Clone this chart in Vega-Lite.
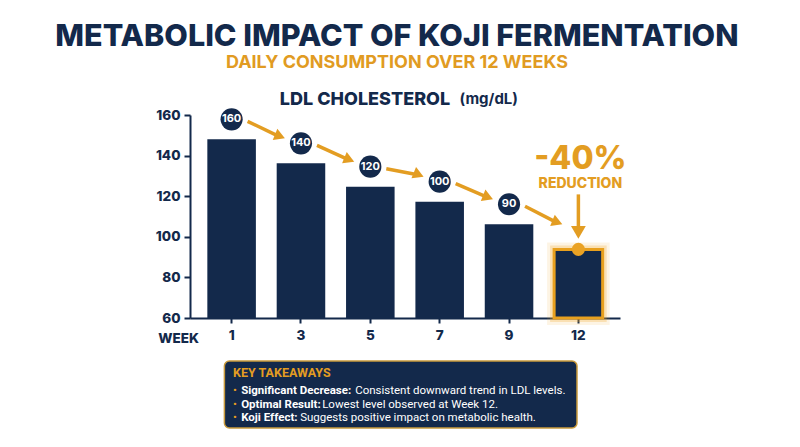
{
  "$schema": "https://vega.github.io/schema/vega-lite/v6.json",
  "background": "white",
  "padding": {"left": 55, "top": 21, "right": 10, "bottom": 10},
  "title": {
    "text": "METABOLIC IMPACT OF KOJI FERMENTATION",
    "subtitle": "DAILY CONSUMPTION OVER 12 WEEKS",
    "anchor": "middle",
    "dx": 6,
    "font": "Inter",
    "fontSize": 30.5,
    "fontWeight": 800,
    "color": "#13294b",
    "subtitleFont": "Inter",
    "subtitleFontSize": 18,
    "subtitleFontWeight": 700,
    "subtitleColor": "#e19b22",
    "subtitlePadding": 2,
    "offset": 19
  },
  "spacing": 15,
  "vconcat": [
    {
      "width": 430,
      "height": 203,
      "title": {
        "text": "LDL CHOLESTEROL",
        "anchor": "middle",
        "dx": -40,
        "baseline": "alphabetic",
        "font": "Inter",
        "fontSize": 18,
        "fontWeight": 800,
        "color": "#13294b",
        "offset": -32
      },
      "data": {
        "values": [
          {"week": "1", "ldl": 148, "badge": "160"},
          {"week": "3", "ldl": 136.2, "badge": "140"},
          {"week": "5", "ldl": 124.7, "badge": "120"},
          {"week": "7", "ldl": 117.3, "badge": "100"},
          {"week": "9", "ldl": 106.2, "badge": "90"},
          {"week": "12", "ldl": 93.8, "badge": null}
        ]
      },
      "encoding": {
        "x": {
          "field": "week",
          "type": "ordinal",
          "sort": null,
          "scale": {"paddingInner": 0.3, "paddingOuter": 0.25},
          "axis": {
            "title": "WEEK",
            "titleX": -12,
            "titleY": 20,
            "titleAlign": "center",
            "titleBaseline": "middle",
            "titleFont": "Inter",
            "titleFontSize": 13.5,
            "titleFontWeight": 800,
            "titleColor": "#13294b",
            "labelAngle": 0,
            "labelFont": "Inter",
            "labelFontSize": 13.5,
            "labelFontWeight": 800,
            "labelColor": "#13294b",
            "labelPadding": 5,
            "domainColor": "#13294b",
            "domainWidth": 2,
            "tickColor": "#13294b",
            "tickWidth": 2,
            "tickSize": 5
          }
        },
        "y": {
          "field": "ldl",
          "type": "quantitative",
          "scale": {"domain": [60, 160], "zero": false, "nice": false},
          "axis": {
            "values": [60, 80, 100, 120, 140, 160],
            "grid": false,
            "title": "(mg/dL)",
            "titleAngle": 0,
            "titleX": 269,
            "titleY": -12,
            "titleAlign": "left",
            "titleBaseline": "alphabetic",
            "titleFont": "Inter",
            "titleFontSize": 15,
            "titleFontWeight": 700,
            "titleColor": "#13294b",
            "labelFont": "Inter",
            "labelFontSize": 13.5,
            "labelFontWeight": 800,
            "labelColor": "#13294b",
            "labelPadding": 4,
            "domainColor": "#13294b",
            "domainWidth": 2,
            "tickColor": "#13294b",
            "tickWidth": 2,
            "tickSize": 6
          }
        }
      },
      "layer": [
        {"mark": {"type": "bar", "color": "#13294b"}, "encoding": {"y2": {"datum": 60}}},
        {
          "transform": [{"filter": "datum.week == '12'"}],
          "mark": {"type": "bar", "fillOpacity": 0, "stroke": "#f2a51f", "strokeWidth": 14, "strokeOpacity": 0.12},
          "encoding": {"y2": {"datum": 60}}
        },
        {
          "transform": [{"filter": "datum.week == '12'"}],
          "mark": {"type": "bar", "fillOpacity": 0, "stroke": "#f2a51f", "strokeWidth": 8, "strokeOpacity": 0.25},
          "encoding": {"y2": {"datum": 60}}
        },
        {
          "transform": [{"filter": "datum.week == '12'"}],
          "mark": {"type": "bar", "fill": "#13294b", "stroke": "#e8a01e", "strokeWidth": 3},
          "encoding": {"y2": {"datum": 60}}
        },
        {
          "transform": [
            {"window": [{"op": "lead", "field": "week", "as": "next"}, {"op": "lead", "field": "ldl", "as": "nextLdl"}]},
            {"filter": "datum.next != null"}
          ],
          "mark": {"type": "rule", "color": "#e39d22", "strokeWidth": 3.5, "xOffset": 16, "yOffset": -18, "x2Offset": -22, "y2Offset": -27},
          "encoding": {
            "x2": {"field": "next"},
            "y2": {"field": "nextLdl"}
          }
        },
        {
          "transform": [
            {"window": [{"op": "lead", "field": "week", "as": "next"}, {"op": "lead", "field": "ldl", "as": "nextLdl"}]},
            {"filter": "datum.next != null"}
          ],
          "mark": {"type": "point", "shape": "triangle-right", "filled": true, "opacity": 1, "color": "#e39d22", "size": 150, "angle": 22, "xOffset": -21, "yOffset": -27},
          "encoding": {
            "x": {"field": "next", "type": "ordinal", "sort": null},
            "y": {"field": "nextLdl", "type": "quantitative"}
          }
        },
        {
          "transform": [{"filter": "datum.badge != null"}],
          "mark": {"type": "point", "shape": "circle", "filled": true, "opacity": 1, "color": "#13294b", "size": 490, "yOffset": -20}
        },
        {
          "transform": [{"filter": "datum.badge != null"}],
          "mark": {"type": "text", "color": "white", "font": "Inter", "fontSize": 11, "fontWeight": 700, "baseline": "middle", "yOffset": -20},
          "encoding": {"text": {"field": "badge"}}
        },
        {
          "transform": [{"filter": "datum.week == '12'"}],
          "mark": {"type": "rule", "color": "#e39d22", "strokeWidth": 3.5, "yOffset": -55, "y2Offset": -22},
          "encoding": {"y2": {"field": "ldl"}}
        },
        {
          "transform": [{"filter": "datum.week == '12'"}],
          "mark": {"type": "point", "shape": "triangle-down", "filled": true, "opacity": 1, "color": "#e39d22", "size": 220, "yOffset": -17}
        },
        {
          "transform": [{"filter": "datum.week == '12'"}],
          "mark": {"type": "point", "shape": "circle", "filled": true, "opacity": 1, "color": "#eaa224", "size": 170}
        },
        {
          "transform": [{"filter": "datum.week == '12'"}],
          "mark": {"type": "text", "text": "-40%", "color": "#e39d22", "font": "Inter", "fontSize": 32, "fontWeight": 800, "baseline": "middle", "dx": 2, "yOffset": -90}
        },
        {
          "transform": [{"filter": "datum.week == '12'"}],
          "mark": {"type": "text", "text": "REDUCTION", "color": "#e39d22", "font": "Inter", "fontSize": 14, "fontWeight": 800, "baseline": "middle", "dx": 2, "yOffset": -65}
        }
      ]
    },
    {
      "width": 430,
      "height": 67,
      "data": {
        "values": [
          {"line": 0, "head": "KEY TAKEAWAYS"},
          {"line": 1, "lead": "Significant Decrease:", "rest": "Consistent downward trend in LDL levels."},
          {"line": 2, "lead": "Optimal Result:", "rest": "Lowest level observed at Week 12."},
          {"line": 3, "lead": "Koji Effect:", "rest": "Suggests positive impact on metabolic health."}
        ]
      },
      "encoding": {
        "y": {"field": "line", "type": "ordinal", "scale": {"type": "point", "padding": 1}, "axis": null}
      },
      "layer": [
        {
          "data": {"values": [{"box": "takeaways"}]},
          "mark": {"type": "rect", "fill": "#13294b", "stroke": "#c99a3c", "strokeWidth": 1.5, "cornerRadius": 5},
          "encoding": {
            "y": null,
            "x": {"datum": 8, "type": "quantitative", "scale": {"domain": [0, 100]}, "axis": null},
            "x2": {"datum": 90}
          }
        },
        {
          "transform": [{"filter": "datum.line == 0"}],
          "mark": {"type": "text", "align": "left", "baseline": "middle", "font": "Roboto", "fontSize": 12.5, "fontWeight": 700, "color": "#e39d22", "yOffset": -1.4},
          "encoding": {
            "x": {"datum": 10, "type": "quantitative", "scale": {"domain": [0, 100]}, "axis": null},
            "text": {"field": "head"}
          }
        },
        {
          "transform": [{"filter": "datum.line > 0"}],
          "mark": {"type": "text", "text": "•", "align": "left", "baseline": "middle", "font": "Roboto", "fontSize": 11.5, "color": "#e39d22", "yOffset": 3.3},
          "encoding": {
            "x": {"datum": 10, "type": "quantitative", "scale": {"domain": [0, 100]}, "axis": null}
          }
        },
        {
          "transform": [{"filter": "datum.line > 0"}],
          "mark": {"type": "text", "align": "left", "baseline": "middle", "font": "Roboto", "fontSize": 11.5, "fontWeight": 700, "color": "white", "yOffset": 3.3},
          "encoding": {
            "x": {"datum": 11.9, "type": "quantitative", "scale": {"domain": [0, 100]}, "axis": null},
            "text": {"field": "lead"}
          }
        },
        {
          "transform": [{"filter": "datum.line == 1"}],
          "mark": {"type": "text", "align": "left", "baseline": "middle", "font": "Roboto", "fontSize": 11.5, "color": "white", "dx": 114, "yOffset": 3.3},
          "encoding": {
            "x": {"datum": 11.9, "type": "quantitative", "scale": {"domain": [0, 100]}, "axis": null},
            "text": {"field": "rest"}
          }
        },
        {
          "transform": [{"filter": "datum.line == 2"}],
          "mark": {"type": "text", "align": "left", "baseline": "middle", "font": "Roboto", "fontSize": 11.5, "color": "white", "dx": 81, "yOffset": 3.3},
          "encoding": {
            "x": {"datum": 11.9, "type": "quantitative", "scale": {"domain": [0, 100]}, "axis": null},
            "text": {"field": "rest"}
          }
        },
        {
          "transform": [{"filter": "datum.line == 3"}],
          "mark": {"type": "text", "align": "left", "baseline": "middle", "font": "Roboto", "fontSize": 11.5, "color": "white", "dx": 59, "yOffset": 3.3},
          "encoding": {
            "x": {"datum": 11.9, "type": "quantitative", "scale": {"domain": [0, 100]}, "axis": null},
            "text": {"field": "rest"}
          }
        }
      ]
    }
  ],
  "config": {
    "view": {"stroke": null},
    "font": "Inter"
  }
}
